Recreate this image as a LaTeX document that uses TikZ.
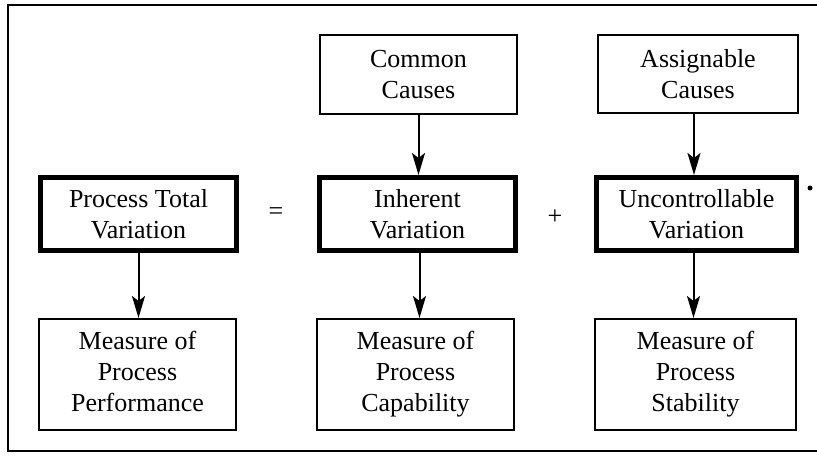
\documentclass[tikz,border=0pt]{standalone}
\usepackage{fontspec}
\setmainfont{Liberation Serif}
\usetikzlibrary{arrows.meta}
\begin{document}
\begin{tikzpicture}[x=1pt,y=-1pt,
  box/.style={draw,line width=2pt,inner sep=0pt,align=center,font=\fontsize{26}{31}\selectfont},
  thickbox/.style={box,line width=5pt},
  sign/.style={inner sep=0pt,font=\fontsize{26}{31}\selectfont},
  arr/.style={line width=2pt,-{Stealth[length=22pt,width=13pt,inset=5pt]}}]
\useasboundingbox (0,0) rectangle (817,457);
\draw[line width=2pt] (8,5) rectangle (820,451);
\node[box,minimum width=197pt,minimum height=79pt] (cc) at (418.5,74.5) {Common\\Causes};
\node[box,minimum width=200pt,minimum height=78pt] (ac) at (698,74) {Assignable\\Causes};
\node[thickbox,minimum width=196pt,minimum height=73pt] (ptv) at (138.5,214) {Process Total\\Variation};
\node[thickbox,minimum width=196pt,minimum height=73pt] (iv) at (417.5,214) {Inherent\\Variation};
\node[thickbox,minimum width=200pt,minimum height=73pt] (uv) at (696.5,214) {Uncontrollable\\Variation};
\node[box,minimum width=197pt,minimum height=111pt] (mp) at (137.5,374.5) {Measure of\\Process\\Performance\vphantom{y}};
\node[box,minimum width=197pt,minimum height=111pt] (mc) at (415.5,374.5) {Measure of\\Process\\Capability};
\node[box,minimum width=201pt,minimum height=111pt] (ms) at (695.5,374.5) {Measure of\\Process\\Stability};
\node[sign] (eq) at (276,214) {=};
\node[sign] (plus) at (555,217) {+};
\draw[arr] (cc.south) -- (cc.south |- iv.north);
\draw[arr] ([xshift=-4pt]ac.south) -- ([xshift=-4pt]ac.south |- uv.north);
\draw[arr] (ptv.south) -- (ptv.south |- mp.north);
\draw[arr] ([xshift=2pt]iv.south) -- ([xshift=2pt]iv.south |- mc.north);
\draw[arr] ([xshift=-3pt]uv.south) -- ([xshift=-3pt]uv.south |- ms.north);
\fill (810,188) circle (2.5pt);
\end{tikzpicture}
\end{document}
